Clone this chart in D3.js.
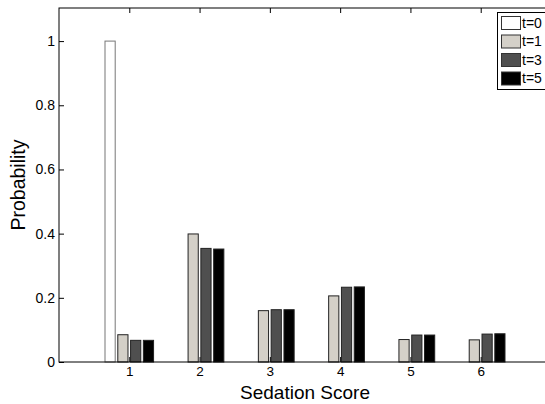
<!DOCTYPE html>
<html><head><meta charset="utf-8">
<script src="https://cdn.jsdelivr.net/npm/d3@7/dist/d3.min.js"></script>
<style>body{margin:0;background:#fff;overflow:hidden}svg{display:block;font-family:"Liberation Sans",Arial,sans-serif}</style>
</head><body>
<svg id="c" width="545" height="404"></svg>
<script>
const categories = [1, 2, 3, 4, 5, 6];
const seriesNames = ["t=0", "t=1", "t=3", "t=5"];
const t0 = [1.0, 0, 0, 0, 0, 0];
const t1 = [0.085, 0.399, 0.160, 0.206, 0.070, 0.069];
const t3 = [0.0675, 0.354, 0.163, 0.233, 0.084, 0.087];
const t5 = [0.0675, 0.352, 0.163, 0.234, 0.084, 0.088];
const yTicks = [0, 0.2, 0.4, 0.6, 0.8, 1];
const colors = ["#ffffff", "#d4d0c8", "#4f4f4f", "#000000"];
const series = [t0, t1, t3, t5];

const svg = d3.select("#c");
const L = 59, R = 551, T = 8, B = 362;
const x = d3.scaleLinear().domain([0, 7]).range([L, R]);
const y = d3.scaleLinear().domain([0, 1.1]).range([B, T + 1]);

const pitch = 0.182, bw = 0.145;

// bottom ticks (under bars)
svg.append("g").attr("transform", `translate(0,${B})`)
  .call(d3.axisBottom(x).tickValues(categories).tickSize(-5).tickPadding(4).tickFormat(d3.format("d")))
  .call(g => { g.select(".domain").remove(); g.selectAll("text").attr("font-size", 13.5).attr("dy", "0.72em").attr("fill","#000"); g.selectAll("line").attr("stroke","#000"); });

// bars
series.forEach((vals, i) => {
  svg.append("g").selectAll("rect").data(vals).join("rect")
    .attr("x", (d, j) => x(categories[j] + (i - 1.5) * pitch - bw / 2))
    .attr("width", x(bw) - x(0))
    .attr("y", d => y(d))
    .attr("height", d => y(0) - y(d))
    .attr("fill", colors[i])
    .attr("stroke", i === 0 ? "#777" : "#222")
    .attr("stroke-width", 1);
});

// top ticks
svg.append("g").attr("transform", `translate(0,${T})`)
  .call(d3.axisTop(x).tickValues(categories).tickSize(-5).tickFormat(""))
  .call(g => { g.select(".domain").remove(); g.selectAll("line").attr("stroke","#000"); });

// left axis
svg.append("g").attr("transform", `translate(${L},0)`)
  .call(d3.axisLeft(y).tickValues(yTicks).tickSize(-5).tickPadding(4).tickFormat(d => d === 0 ? "0" : d === 1 ? "1" : d3.format(".1f")(d)))
  .call(g => { g.select(".domain").remove(); g.selectAll("text").attr("font-size", 14).attr("fill","#000"); g.selectAll("line").attr("stroke","#000"); });
// right ticks
svg.append("g").attr("transform", `translate(${R},0)`)
  .call(d3.axisRight(y).tickValues(yTicks).tickSize(-5).tickFormat(""))
  .call(g => { g.select(".domain").remove(); g.selectAll("line").attr("stroke","#000"); });

// box
svg.append("rect").attr("x", L).attr("y", T).attr("width", R - L).attr("height", B - T)
  .attr("fill", "none").attr("stroke", "#000").attr("stroke-width", 1);

// labels
svg.append("text").attr("x", (L + R) / 2).attr("y", 399).attr("text-anchor", "middle")
  .attr("font-size", 19).text("Sedation Score");
svg.append("text").attr("transform", `translate(25,${(T + B) / 2}) rotate(-90)`).attr("text-anchor", "middle")
  .attr("font-size", 19.5).text("Probability");

// legend
const lg = svg.append("g");
lg.append("rect").attr("x", 497.5).attr("y", 12.5).attr("width", 60).attr("height", 77)
  .attr("fill", "#fff").attr("stroke", "#000");
seriesNames.forEach((n, i) => {
  const cy = 23 + i * 18.5;
  lg.append("rect").attr("x", 501.5).attr("y", cy - 6.5).attr("width", 19).attr("height", 13)
    .attr("fill", colors[i]).attr("stroke", "#333");
  lg.append("text").attr("x", 522).attr("y", cy).attr("dy", "0.35em").attr("font-size", 14).text(n);
});
</script>
</body></html>
